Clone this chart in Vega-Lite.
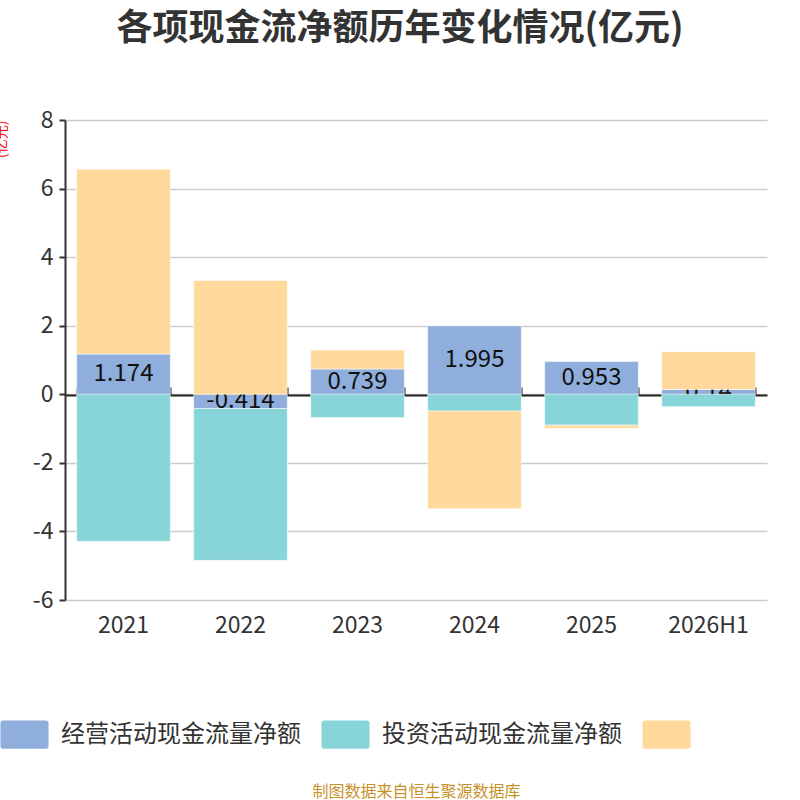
{
  "$schema": "https://vega.github.io/schema/vega-lite/v6.json",
  "autosize": {"type": "none"},
  "width": 702,
  "height": 480,
  "padding": {"left": 65, "top": 120, "right": 33, "bottom": 200},
  "background": "white",
  "config": {
    "font": "Noto Sans CJK SC",
    "view": {"stroke": null}
  },
  "title": {
    "text": "各项现金流净额历年变化情况(亿元)",
    "fontSize": 36,
    "fontWeight": "bold",
    "color": "#333333",
    "anchor": "middle",
    "dx": -16,
    "offset": 61
  },
  "data": {
    "values": [
      {"year": "2021", "series": "经营活动现金流量净额", "value": 1.174},
      {"year": "2021", "series": "投资活动现金流量净额", "value": -4.29},
      {"year": "2021", "series": "筹资活动现金流量净额", "value": 5.39},
      {"year": "2022", "series": "经营活动现金流量净额", "value": -0.414},
      {"year": "2022", "series": "投资活动现金流量净额", "value": -4.43},
      {"year": "2022", "series": "筹资活动现金流量净额", "value": 3.32},
      {"year": "2023", "series": "经营活动现金流量净额", "value": 0.739},
      {"year": "2023", "series": "投资活动现金流量净额", "value": -0.68},
      {"year": "2023", "series": "筹资活动现金流量净额", "value": 0.55},
      {"year": "2024", "series": "经营活动现金流量净额", "value": 1.995},
      {"year": "2024", "series": "投资活动现金流量净额", "value": -0.49},
      {"year": "2024", "series": "筹资活动现金流量净额", "value": -2.85},
      {"year": "2025", "series": "经营活动现金流量净额", "value": 0.953},
      {"year": "2025", "series": "投资活动现金流量净额", "value": -0.9},
      {"year": "2025", "series": "筹资活动现金流量净额", "value": -0.09},
      {"year": "2026H1", "series": "经营活动现金流量净额", "value": 0.14},
      {"year": "2026H1", "series": "投资活动现金流量净额", "value": -0.36},
      {"year": "2026H1", "series": "筹资活动现金流量净额", "value": 1.1}
    ]
  },
  "transform": [
    {"calculate": "indexof(['经营活动现金流量净额','投资活动现金流量净额','筹资活动现金流量净额'], datum.series)", "as": "ord"},
    {"stack": "value", "groupby": ["year"], "sort": [{"field": "ord", "order": "ascending"}], "as": ["v0", "v1"]},
    {"calculate": "(datum.v0 + datum.v1) / 2", "as": "mid"}
  ],
  "layer": [
    {
      "transform": [{"filter": "datum.series == '经营活动现金流量净额'"}],
      "mark": {"type": "bar", "stroke": "white", "strokeWidth": 0.5},
      "encoding": {
        "x": {
          "field": "year", "type": "nominal", "sort": null,
          "scale": {"paddingInner": 0.2, "paddingOuter": 0.1},
          "axis": {
            "title": "制图数据来自恒生聚源数据库",
            "titleColor": "#C8922A",
            "titleFontSize": 16,
            "titleFontWeight": "normal",
            "titlePadding": 146,
            "labelAngle": 0,
            "labelFontSize": 23,
            "labelColor": "#333333",
            "labelPadding": 14,
            "domain": false,
            "ticks": false
          }
        },
        "y": {
          "field": "v1", "type": "quantitative",
          "scale": {"domain": [-6, 8], "nice": false},
          "axis": {
            "title": "(亿元)",
            "titleColor": "#FF0000",
            "titleFontSize": 14,
            "titleFontWeight": "normal",
            "titleAnchor": "end",
            "titlePadding": 24,
            "values": [-6, -4, -2, 0, 2, 4, 6, 8],
            "labelExpr": "'' + datum.value",
            "labelFontSize": 23,
            "labelColor": "#333333",
            "labelPadding": 6,
            "grid": true,
            "gridColor": "#CCCCCC",
            "gridWidth": 1.5,
            "domainColor": "#333333",
            "domainWidth": 2,
            "tickColor": "#333333",
            "tickWidth": 2,
            "tickSize": 6
          }
        },
        "y2": {"field": "v0"},
        "color": {
          "field": "series", "type": "nominal",
          "scale": {
            "domain": ["经营活动现金流量净额", "投资活动现金流量净额", "筹资活动现金流量净额"],
            "range": ["#8FAEDC", "#87D5D9", "#FFD99B"]
          },
          "legend": {
            "orient": "none",
            "legendX": -55,
            "legendY": 600,
            "direction": "horizontal",
            "title": null,
            "symbolType": "M-1.5,-1H1.5Q1.7,-1 1.7,-0.8V0.8Q1.7,1 1.5,1H-1.5Q-1.7,1 -1.7,0.8V-0.8Q-1.7,-1 -1.5,-1Z",
            "symbolSize": 800,
            "symbolStrokeWidth": 0,
            "symbolOpacity": 1,
            "labelFontSize": 24,
            "labelColor": "#333333",
            "labelOffset": 22,
            "labelLimit": 400,
            "columnPadding": 20,
            "labelExpr": "datum.value == '筹资活动现金流量净额' ? '' : datum.label"
          }
        }
      }
    },
    {
      "transform": [{"filter": "datum.series == '经营活动现金流量净额'"}],
      "mark": {"type": "text", "fontSize": 24, "color": "#111111", "baseline": "middle", "align": "center"},
      "encoding": {
        "x": {"field": "year", "type": "nominal", "sort": null, "axis": null},
        "y": {"field": "mid", "type": "quantitative"},
        "text": {"field": "value", "type": "nominal"}
      }
    },
    {
      "transform": [{"filter": "datum.series != '经营活动现金流量净额'"}],
      "mark": {"type": "bar", "stroke": "white", "strokeWidth": 0.5},
      "encoding": {
        "x": {
          "field": "year", "type": "nominal", "sort": null,
          "axis": {
            "title": null,
            "labels": false,
            "offset": -275,
            "domain": true,
            "domainColor": "#222222",
            "domainWidth": 2,
            "ticks": true,
            "tickBand": "extent",
            "tickColor": "#222222",
            "tickWidth": 2,
            "tickSize": 8,
            "grid": false
          }
        },
        "y": {"field": "v1", "type": "quantitative"},
        "y2": {"field": "v0"},
        "color": {"field": "series", "type": "nominal"}
      }
    }
  ],
  "resolve": {"axis": {"x": "independent"}}
}
